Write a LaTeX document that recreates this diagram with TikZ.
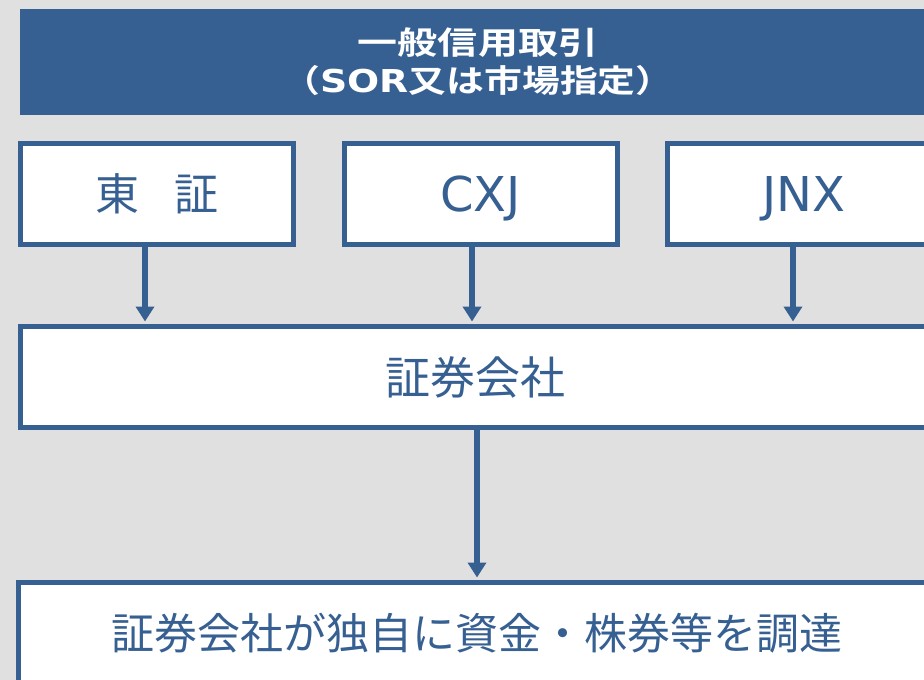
\documentclass[tikz,border=0pt]{standalone}
\usepackage{fontspec}
\setmainfont{DejaVu Sans}
\newfontfamily\cjk{Noto Sans CJK JP}[BoldFont=Noto Sans CJK JP Bold]
\usetikzlibrary{arrows.meta}
\definecolor{hblue}{HTML}{376092}
\definecolor{bgray}{HTML}{E0E0E0}
\tikzset{
  box/.style={draw=hblue, line width=5pt, fill=white, rectangle, inner sep=0pt, text=hblue},
  arr/.style={draw=hblue, line width=5.5pt, -{Triangle[length=15pt,width=18pt]}, shorten >=2.5pt},
  jtext/.style={font=\cjk\fontsize{#1}{#1}\selectfont},
  ltext/.style={font=\fontsize{#1}{#1}\selectfont, text depth=0pt}
}
\begin{document}
\begin{tikzpicture}[x=1pt,y=-1pt]
\fill[bgray] (0,0) rectangle (924,680);
\useasboundingbox (0,0) rectangle (924,680);
\clip (0,0) rectangle (924,680);

\node[fill=hblue, minimum width=916pt, minimum height=106pt, inner sep=0pt,
      text=white, align=center, font=\cjk\bfseries\fontsize{31.5}{39}\selectfont] (header) at (478,62)
  {\scalebox{1.27}[1]{一般信用取引}\\[-1pt]\scalebox{1.2}[1]{（{\rmfamily\bfseries SOR}又は市場指定）}};

\node[box, minimum width=273pt, minimum height=101pt, jtext=44] (tse) at (157,194) {東\hspace{35pt}証};
\node[box, minimum width=273pt, minimum height=101pt, ltext=48] (cxj) at (480.5,194) {CXJ};
\node[box, minimum width=273pt, minimum height=101pt, ltext=48] (jnx) at (803.5,194) {JNX};

\node[box, minimum width=909pt, minimum height=101pt, jtext=45] (firm) at (475,377) {証券会社};
\node[box, minimum width=916pt, minimum height=101pt, jtext=43] (self) at (476.5,633) {証券会社が独自に資金・株券等を調達};

\draw[arr] ([xshift=-12pt]tse.south) -- ([xshift=-12pt]tse.south |- firm.north);
\draw[arr] ([xshift=-8.5pt]cxj.south) -- ([xshift=-8.5pt]cxj.south |- firm.north);
\draw[arr] ([xshift=-10.5pt]jnx.south) -- ([xshift=-10.5pt]jnx.south |- firm.north);
\draw[arr] ([xshift=2pt]firm.south) -- ([xshift=2pt]firm.south |- self.north);
\end{tikzpicture}
\end{document}
